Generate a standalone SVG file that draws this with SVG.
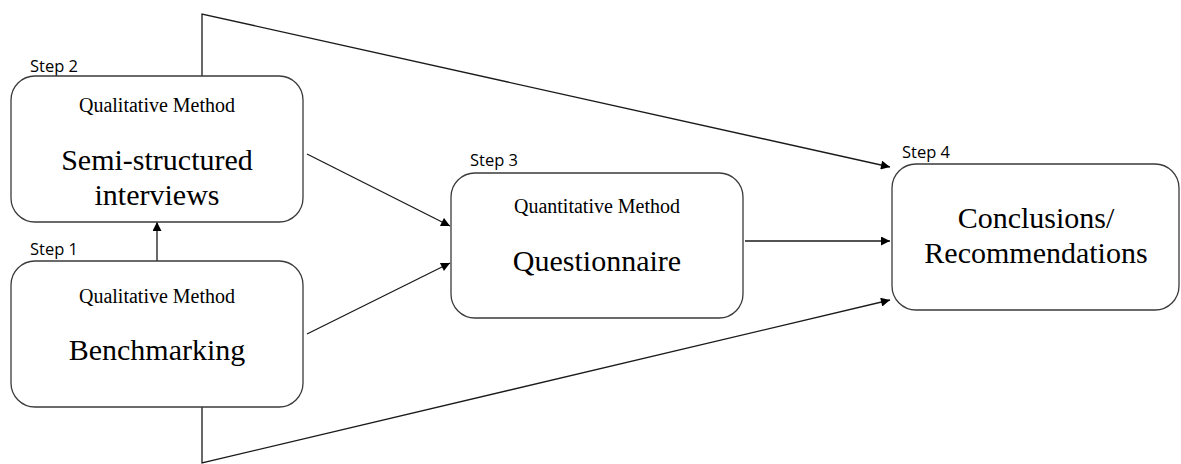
<svg xmlns="http://www.w3.org/2000/svg" width="1181" height="464" viewBox="0 0 1181 464">
  <style>
    .box { fill: #ffffff; stroke: #3a3a3a; stroke-width: 1.3; }
    .step { font-family: "Open Sans", "Liberation Sans", sans-serif; font-size: 16.5px; fill: #000; }
    .method { font-family: "Liberation Serif", "Times New Roman", serif; font-size: 20px; fill: #000; text-anchor: middle; }
    .title { font-family: "Liberation Serif", "Times New Roman", serif; font-size: 30px; fill: #000; text-anchor: middle; }
    .link { fill: none; stroke: #1a1a1a; stroke-width: 1.3; }
  </style>
  <defs>
    <marker id="arrow" viewBox="0 0 10 10" refX="10" refY="5" markerWidth="11" markerHeight="9" markerUnits="userSpaceOnUse" orient="auto">
      <path d="M0,0 L10,5 L0,10 z" fill="#000"/>
    </marker>
  </defs>

  <!-- connectors between the steps -->
  <g id="connectors">
    <polyline class="link" points="202,76 202,14 890,167" marker-end="url(#arrow)"/>
    <polyline class="link" points="202,407 202,463 890,300" marker-end="url(#arrow)"/>
    <line class="link" x1="157" y1="261" x2="157" y2="222" marker-end="url(#arrow)"/>
    <line class="link" x1="307" y1="154" x2="450" y2="226" marker-end="url(#arrow)"/>
    <line class="link" x1="307" y1="334" x2="450" y2="263" marker-end="url(#arrow)"/>
    <line class="link" x1="745" y1="241" x2="890" y2="241" marker-end="url(#arrow)"/>
  </g>

  <g id="step2">
    <text class="step" x="30" y="72">Step 2</text>
    <rect class="box" x="11" y="76" width="292" height="146" rx="24"/>
    <text class="method" x="157" y="112">Qualitative Method</text>
    <text class="title" x="157" y="170">Semi-structured</text>
    <text class="title" x="157" y="205">interviews</text>
  </g>

  <g id="step1">
    <text class="step" x="30" y="255">Step 1</text>
    <rect class="box" x="11" y="261" width="292" height="146" rx="24"/>
    <text class="method" x="157" y="303">Qualitative Method</text>
    <text class="title" x="157" y="360">Benchmarking</text>
  </g>

  <g id="step3">
    <text class="step" x="470" y="166">Step 3</text>
    <rect class="box" x="451" y="173" width="292" height="145" rx="24"/>
    <text class="method" x="597" y="213">Quantitative Method</text>
    <text class="title" x="597" y="271">Questionnaire</text>
  </g>

  <g id="step4">
    <text class="step" x="902" y="158">Step 4</text>
    <rect class="box" x="892" y="164" width="287" height="146" rx="24"/>
    <text class="title" x="1036" y="228">Conclusions/</text>
    <text class="title" x="1036" y="263">Recommendations</text>
  </g>
</svg>
